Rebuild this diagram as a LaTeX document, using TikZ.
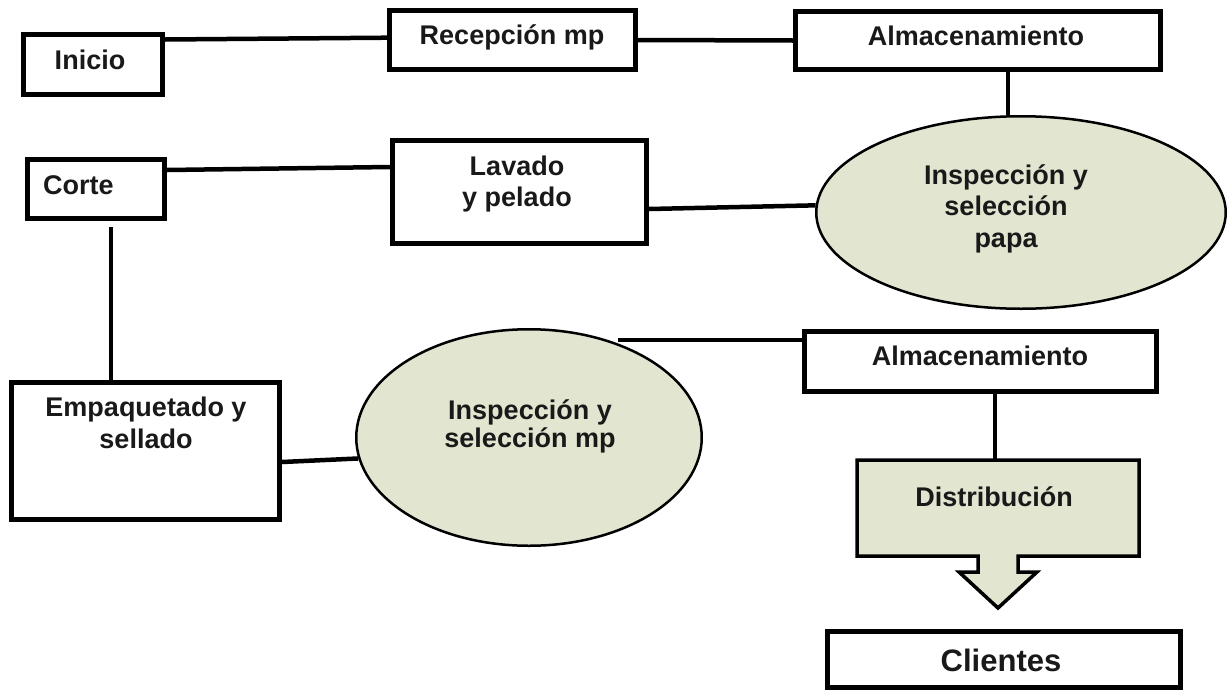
\documentclass[tikz,border=0pt]{standalone}
\usepackage{fontspec}
\setmainfont{Liberation Sans}
\usetikzlibrary{shapes.geometric,calc}
\definecolor{procfill}{RGB}{226,229,208}

\begin{document}
\begin{tikzpicture}[x=1pt,y=-1pt,
  box/.style={draw=black, line width=5pt, rectangle, inner sep=0pt},
  oval/.style={ellipse, draw=black, fill=procfill, line width=2.5pt, inner sep=0pt},
  link/.style={draw=black, line width=4.5pt},
  txt/.style={font={\fontsize{27pt}{31.5pt}\selectfont\bfseries}, align=center, inner sep=0pt, anchor=base, text=black!90}
]
% canvas
\fill[white] (0,0) rectangle (1229,691);
\useasboundingbox (0,0) rectangle (1229,691);

% process boxes
\node[box, minimum width=139pt, minimum height=60pt] (inicio) at (93,64.5) {};
\node[box, minimum width=246pt, minimum height=59pt] (recep) at (512.5,40) {};
\node[box, minimum width=365pt, minimum height=58pt] (alm1) at (978,40.5) {};
\node[box, minimum width=137pt, minimum height=59pt] (corte) at (96,189) {};
\node[box, minimum width=254pt, minimum height=103pt] (lavado) at (519.5,192) {};
\node[box, minimum width=268pt, minimum height=137pt] (empaq) at (145.5,451) {};
\node[box, minimum width=352pt, minimum height=60pt] (alm2) at (980.5,361.5) {};
\node[box, minimum width=353pt, minimum height=56pt] (clientes) at (1004,659.5) {};

% inspection ellipses
\node[oval, minimum width=409.5pt, minimum height=192.5pt] (papa) at (1021,212.5) {};
\node[oval, minimum width=345.5pt, minimum height=216.5pt] (mp) at (529,437.5) {};

% distribution callout with down arrow
\node[rectangle, draw=none, inner sep=0pt, outer sep=0pt, minimum width=282pt, minimum height=96pt] (dist) at (998,508) {};
\filldraw[fill=procfill, draw=black, line width=3.5pt]
  (dist.north west) -- (dist.north east) -- (dist.south east)
  -- ([xshift=20pt]dist.south) -- ([xshift=20pt,yshift=-16pt]dist.south)
  -- ([xshift=39pt,yshift=-16pt]dist.south) -- ([yshift=-52pt]dist.south)
  -- ([xshift=-39pt,yshift=-16pt]dist.south) -- ([xshift=-20pt,yshift=-16pt]dist.south)
  -- ([xshift=-20pt]dist.south) -- (dist.south west) -- cycle;

% connectors
\coordinate (mpR) at ([xshift=89pt,yshift=-12pt]mp.north);
\draw[link] ([yshift=-7.5pt]inicio.north east) -- ([yshift=2.3pt]recep.west);
\draw[link] (recep.east) -- (alm1.west);
\draw[link] ([xshift=30pt]alm1.south) -- ([xshift=30pt]alm1.south |- papa.north);
\draw[link] ([yshift=-13pt]corte.north east) -- ([yshift=-29pt]lavado.north west);
\draw[link] ([yshift=-17pt]lavado.east) -- (papa.178.5);
\draw[link] ([xshift=15pt,yshift=-6pt]corte.south) -- ([xshift=15pt]corte.south |- empaq.north);
\draw[link] ([yshift=-11pt]empaq.east) -- (mp.187);
\draw[link] (mpR) -- (mpR -| alm2.west);
\draw[link] ([xshift=14.5pt]alm2.south) -- ([xshift=14.5pt]alm2.south |- dist.north);

% labels (multi-line labels are placed by the baseline of their last line)
\node[txt] (t-inicio) at (90,69) {Inicio};
\node[txt] (t-recep) at (512,44) {Recepción mp};
\node[txt] (t-alm1) at (976,45) {Almacenamiento};
\node[txt, anchor=base west] (t-corte) at (43,194) {Corte};
\node[txt] (t-lavado) at (517,206.5) {Lavado\\y pelado};
\node[txt] (t-papa) at (1006,247) {Inspección y\\selección\\papa};
\node[txt] (t-empaq) at (146,448) {Empaquetado y\\sellado};
\node[txt, font={\fontsize{27pt}{28pt}\selectfont\bfseries}] (t-mp) at (530,447) {Inspección y\\selección mp};
\node[txt] (t-alm2) at (980,365) {Almacenamiento};
\node[txt] (t-dist) at (994,506) {Distribución};
\node[txt, font={\fontsize{31pt}{36pt}\selectfont\bfseries}] (t-clientes) at (1001,671) {Clientes};
\end{tikzpicture}
\end{document}
